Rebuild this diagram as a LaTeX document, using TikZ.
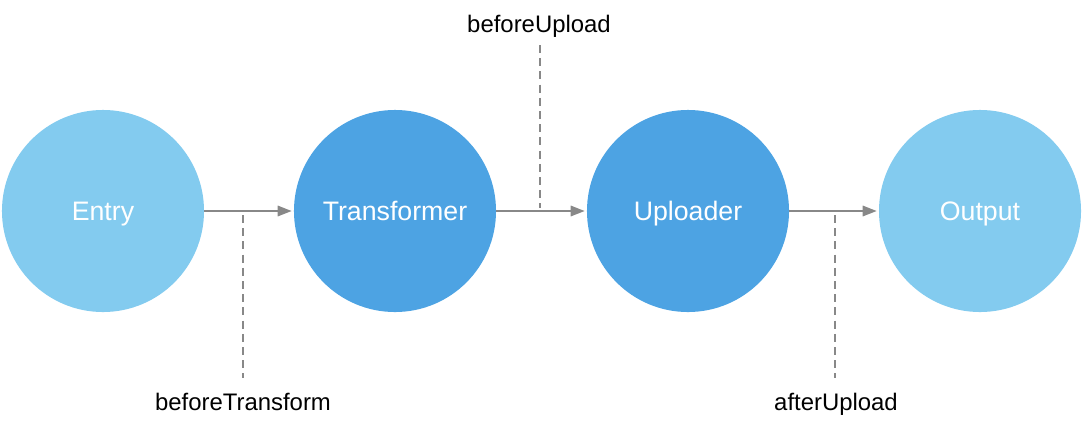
\documentclass[tikz,border=0pt]{standalone}
\usepackage{fontspec}
\setmainfont{Liberation Sans}
\usetikzlibrary{arrows.meta}

\definecolor{hellblau}{HTML}{83CBEF}
\definecolor{dunkelblau}{HTML}{4DA3E3}
\definecolor{pfeilgrau}{HTML}{888888}

\tikzset{
	stufe/.style={circle, minimum size=5.05cm, inner sep=0pt, text=white, text height=1.55em, text depth=0.2em, font=\fontsize{19}{21}\selectfont},
	fluss/.style={-{Triangle[length=0.35cm, width=0.26cm]}, line width=1.4pt, pfeilgrau, shorten >=0.05cm},
	haken/.style={pfeilgrau, line width=0.9pt, dash pattern=on 0.2cm off 0.13cm},
	hakentext/.style={text height=1.55em, text depth=0.2em, font=\fontsize{17}{19}\selectfont}
}

\begin{document}
\begin{tikzpicture}[x=0.025cm, y=-0.025cm]
%\draw [lightgray](0,0) grid (1083,422);
	\useasboundingbox (0,0) rectangle (1083,422);

	% Zeichnet die vier Stufen
	\node[stufe, fill=hellblau] (entry) at (103,211) {Entry};
	\node[stufe, fill=dunkelblau] (transformer) at (395,211) {Transformer};
	\node[stufe, fill=dunkelblau] (uploader) at (688,211) {Uploader};
	\node[stufe, fill=hellblau] (output) at (980,211) {Output};

	% Zeichnet die Pfeile zwischen den Stufen
	\draw[fluss] (entry) -- (transformer);
	\draw[fluss] (transformer) -- (uploader);
	\draw[fluss] (uploader) -- (output);

	% Haken vor dem Transformieren
	\coordinate (bt_oben) at (243,215);
	\coordinate (bt_unten) at (243,378);
	\node[hakentext] (bt_text) at (243,401) {beforeTransform};
	\draw[haken] (bt_oben) -- (bt_unten);

	% Haken vor dem Hochladen
	\coordinate (bu_oben) at (540,45);
	\coordinate (bu_unten) at (540,208);
	\node[hakentext] (bu_text) at (539,23) {beforeUpload};
	\draw[haken] (bu_oben) -- (bu_unten);

	% Haken nach dem Hochladen
	\coordinate (au_oben) at (835,215);
	\coordinate (au_unten) at (835,378);
	\node[hakentext] (au_text) at (836,401) {afterUpload};
	\draw[haken] (au_oben) -- (au_unten);

\end{tikzpicture}
\end{document}
